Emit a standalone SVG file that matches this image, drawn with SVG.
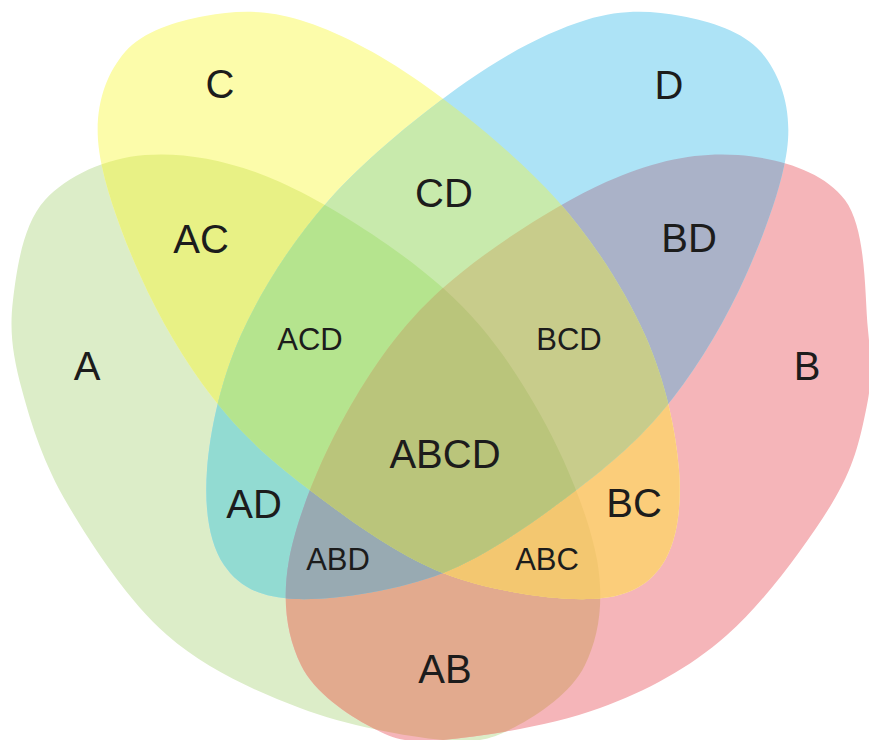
<svg xmlns="http://www.w3.org/2000/svg" xmlns:xlink="http://www.w3.org/1999/xlink" width="869" height="740" viewBox="0 0 869 740">
  <style>
    .lbl { font-family: "Liberation Sans", Arial, sans-serif; fill: #1c1c1c; text-anchor: middle; }
    .big { font-size: 40px; }
    .small { font-size: 31px; }
  </style>
  <defs>
    <!-- set outlines; D is the mirror image of C about x = 443 -->
    <path id="shapeA" d="M13,300 C16.83,268.33 23,224.17 45,200 C67,175.83 105.83,158 145,155 C184.17,152 230.33,159.83 280,182 C329.67,204.17 399.67,249.33 443,288 C486.33,326.67 514.33,368.67 540,414 C565.67,459.33 589.5,518.17 597,560 C604.5,601.83 598.67,637.17 585,665 C571.33,692.83 538.67,714.5 515,727 C491.33,739.5 478.83,743.17 443,740 C407.17,736.83 346,725.5 300,708 C254,690.5 205.67,668.83 167,635 C128.33,601.17 92.17,545.83 68,505 C43.83,464.17 31.17,424.17 22,390 C12.83,355.83 9.17,331.67 13,300 Z"/>
    <path id="shapeB" d="M868,330 C864.5,295 866.67,229.17 845,200 C823.33,170.83 777.83,158 738,155 C698.17,152 655.17,159.83 606,182 C556.83,204.17 486.33,249.33 443,288 C399.67,326.67 371.67,368.67 346,414 C320.33,459.33 296.5,518.17 289,560 C281.5,601.83 287.33,637.17 301,665 C314.67,692.83 347.33,714.5 371,727 C394.67,739.5 404.83,743.17 443,740 C481.17,736.83 552.67,725.5 600,708 C647.33,690.5 688.5,668.83 727,635 C765.5,601.17 807.83,542.5 831,505 C854.17,467.5 859.83,439.17 866,410 C872.17,380.83 871.5,365 868,330 Z"/>
    <path id="shapeC" d="M98,140 C95.5,102.83 107.17,72.67 125,52 C142.83,31.33 175.83,21.33 205,16 C234.17,10.67 264.17,9 300,20 C335.83,31 377.17,52 420,82 C462.83,112 519.5,157.83 557,200 C594.5,242.17 624.67,290 645,335 C665.33,380 676.17,431.67 679,470 C681.83,508.33 676.83,543.5 662,565 C647.17,586.5 626.5,597.67 590,599 C553.5,600.33 490.17,591.5 443,573 C395.83,554.5 345.33,517.17 307,488 C268.67,458.83 240.83,433.5 213,398 C185.17,362.5 159.17,318 140,275 C120.83,232 100.5,177.17 98,140 Z"/>
    <clipPath id="clipA"><use xlink:href="#shapeA" href="#shapeA"/></clipPath>
    <clipPath id="clipB"><use xlink:href="#shapeB" href="#shapeB"/></clipPath>
    <clipPath id="clipC"><use xlink:href="#shapeC" href="#shapeC"/></clipPath>
    <clipPath id="clipD"><use xlink:href="#shapeC" href="#shapeC" transform="matrix(-1 0 0 1 886 0)"/></clipPath>
  </defs>

  <rect width="869" height="740" fill="#ffffff"/>

  <!-- single sets -->
  <g id="set-A">
    <use href="#shapeA" fill="#dcedc8"/>
    <text class="lbl big" x="87" y="380">A</text>
  </g>
  <g id="set-B">
    <use href="#shapeB" fill="#f5b5b9"/>
    <text class="lbl big" x="807" y="380">B</text>
  </g>
  <g id="set-C">
    <use href="#shapeC" fill="#fcfcaa"/>
    <text class="lbl big" x="220" y="98">C</text>
  </g>
  <g id="set-D">
    <use href="#shapeC" transform="matrix(-1 0 0 1 886 0)" fill="#ade3f6"/>
    <text class="lbl big" x="669" y="99">D</text>
  </g>

  <!-- two-set overlaps -->
  <g id="region-AB">
    <g clip-path="url(#clipA)"><use href="#shapeB" fill="#e2aa8e"/></g>
    <text class="lbl big" x="445" y="683">AB</text>
  </g>
  <g id="region-AC">
    <g clip-path="url(#clipA)"><use href="#shapeC" fill="#e8f185"/></g>
    <text class="lbl big" x="201" y="253">AC</text>
  </g>
  <g id="region-AD">
    <g clip-path="url(#clipA)"><use href="#shapeC" transform="matrix(-1 0 0 1 886 0)" fill="#92dbd2"/></g>
    <text class="lbl big" x="254" y="518">AD</text>
  </g>
  <g id="region-BC">
    <g clip-path="url(#clipB)"><use href="#shapeC" fill="#fbcd7a"/></g>
    <text class="lbl big" x="634" y="517">BC</text>
  </g>
  <g id="region-BD">
    <g clip-path="url(#clipB)"><use href="#shapeC" transform="matrix(-1 0 0 1 886 0)" fill="#aab2c8"/></g>
    <text class="lbl big" x="689" y="252">BD</text>
  </g>
  <g id="region-CD">
    <g clip-path="url(#clipC)"><use href="#shapeC" transform="matrix(-1 0 0 1 886 0)" fill="#c8eaac"/></g>
    <text class="lbl big" x="444" y="207">CD</text>
  </g>

  <!-- three-set overlaps -->
  <g id="region-ABC">
    <g clip-path="url(#clipA)"><g clip-path="url(#clipB)"><use href="#shapeC" fill="#f3c770"/></g></g>
    <text class="lbl small" x="547" y="570">ABC</text>
  </g>
  <g id="region-ABD">
    <g clip-path="url(#clipA)"><g clip-path="url(#clipB)"><use href="#shapeC" transform="matrix(-1 0 0 1 886 0)" fill="#98aab2"/></g></g>
    <text class="lbl small" x="338" y="570">ABD</text>
  </g>
  <g id="region-ACD">
    <g clip-path="url(#clipA)"><g clip-path="url(#clipC)"><use href="#shapeC" transform="matrix(-1 0 0 1 886 0)" fill="#b5e48e"/></g></g>
    <text class="lbl small" x="310" y="350">ACD</text>
  </g>
  <g id="region-BCD">
    <g clip-path="url(#clipB)"><g clip-path="url(#clipC)"><use href="#shapeC" transform="matrix(-1 0 0 1 886 0)" fill="#c8cc8b"/></g></g>
    <text class="lbl small" x="569" y="350">BCD</text>
  </g>

  <!-- all four sets -->
  <g id="region-ABCD">
    <g clip-path="url(#clipA)"><g clip-path="url(#clipB)"><g clip-path="url(#clipC)"><use href="#shapeC" transform="matrix(-1 0 0 1 886 0)" fill="#bac57b"/></g></g></g>
    <text class="lbl big" x="445" y="468">ABCD</text>
  </g>
</svg>
